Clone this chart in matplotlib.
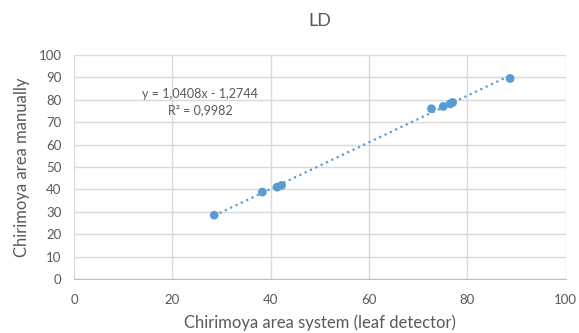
import matplotlib
matplotlib.use('Agg')
from matplotlib import pyplot as plt
import numpy as np

# leaf detector vs manual measurement
system_area = [28.5, 38.3, 41.3, 42.2, 72.7, 75.1, 76.5, 77.0, 88.7]
manual_area = [28.5, 38.8, 41.0, 41.8, 76.0, 77.0, 78.2, 78.8, 89.5]
eq_text = 'y = 1,0408x - 1,2744\nR² = 0,9982'

plt.rcParams['font.family'] = ['Lato', 'DejaVu Sans']
gray = '#595959'
blue = '#5b9bd5'

fig = plt.figure(figsize=(5.79, 3.33), dpi=100)
ax = fig.add_axes([0.128, 0.162, 0.849, 0.673])

x = np.array(system_area)
y = np.array(manual_area)
slope, icept = np.polyfit(x, y, 1)
xs = np.array([x.min(), x.max()])
ax.plot(xs, slope * xs + icept, linestyle=':', color=blue, linewidth=1.6, zorder=2)
ax.scatter(x, y, s=40, color=blue, zorder=3, edgecolors='none')

ax.text(25.6, 79, eq_text, ha='center', va='center', fontsize=9, color=gray, linespacing=1.5)

ax.set_xlim(0, 100)
ax.set_ylim(0, 100)
ax.set_xticks(range(0, 101, 20))
ax.set_yticks(range(0, 101, 10))
ax.grid(True, color='#d9d9d9', linewidth=1)
ax.set_axisbelow(True)
for s in ['top', 'right', 'left']:
    ax.spines[s].set_visible(False)
ax.spines['bottom'].set_color('#bfbfbf')
ax.tick_params(axis='y', length=0, labelsize=9.5, colors=gray, pad=9)
ax.tick_params(axis='x', length=0, labelsize=9.5, colors=gray, pad=11)

ax.set_xlabel('Chirimoya area system (leaf detector)', fontsize=12, color=gray)
ax.set_ylabel('Chirimoya area manually', fontsize=12, color=gray)
ax.xaxis.set_label_coords(0.5, (279 - 314) / 224)
ax.yaxis.set_label_coords((30 - 74) / 492, 0.5)
fig.text(0.5 * (74 + 566) / 579, 1 - 21 / 333, 'LD', ha='center', va='center',
         fontsize=13, color=gray)

fig.savefig('out.png', dpi=100)
